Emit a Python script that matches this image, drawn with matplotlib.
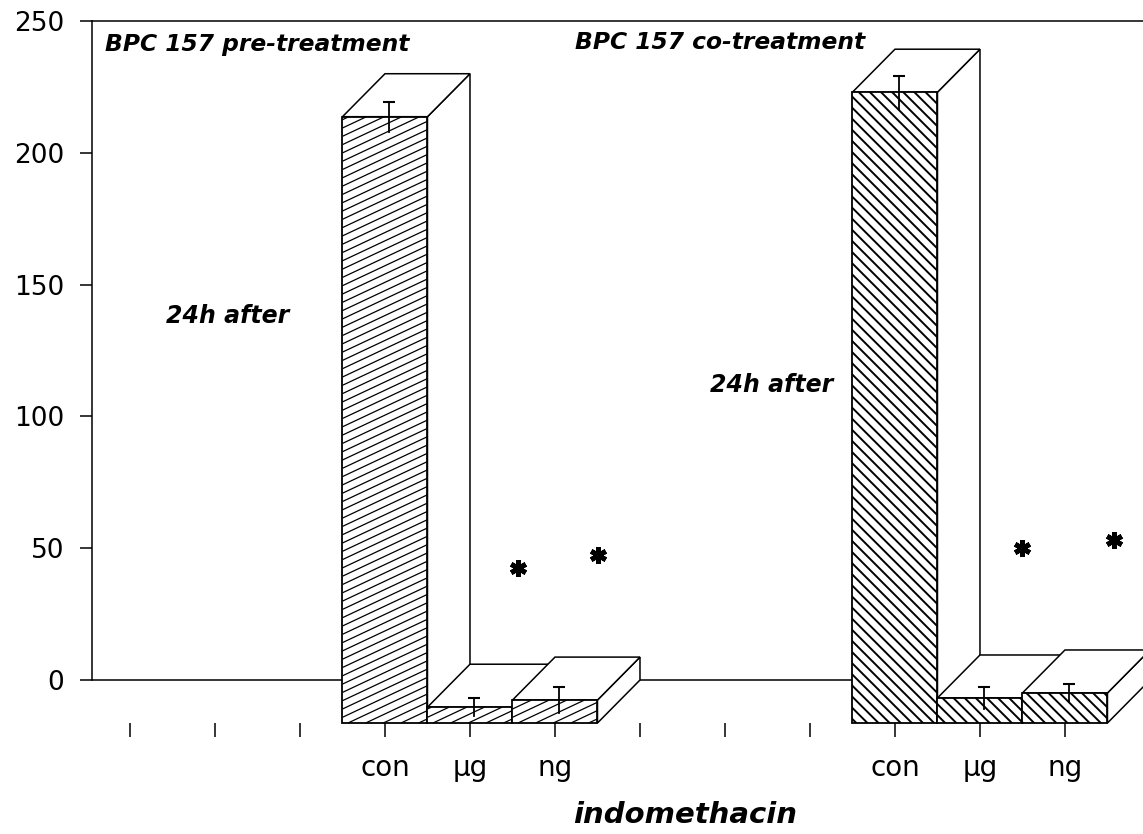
import numpy as np
import matplotlib
matplotlib.use("Agg")
import matplotlib.pyplot as plt
from matplotlib.patches import Polygon, Rectangle
from matplotlib.collections import LineCollection

# values read on the back wall of the 3-D chart
dose_labels = ["con", "µg", "ng"]
pre_x = [3, 4, 5]
co_x = [9, 10, 11]
pre_vals = [230.0, 6.0, 8.7]
pre_err = [5.7, 3.4, 4.9]
co_vals = [239.3, 9.5, 11.4]
co_err = [6.3, 4.2, 3.4]
star_x = [4.56, 5.51, 10.50, 11.58]
star_y = [42.5, 47.5, 50.0, 53.2]
n_ticks = 12

depth_x = 0.5
depth_y = 16.3

plt.rcParams['font.family'] = ['DejaVu Sans']
plt.rcParams['hatch.linewidth'] = 1.4

fig = plt.figure(figsize=(11.43, 8.34), dpi=100)
ax = fig.add_axes([92 / 1143, 1 - 723 / 834, 1 - 92 / 1143, (723 - 21) / 834])
ax.set_xlim(-0.447, 11.918)
ax.set_ylim(-depth_y, 250)

bb = ax.get_window_extent()
sx = bb.width / (11.918 + 0.447)
sy = bb.height / (250 + depth_y)


def slanted_hatch(x0, x1, y0, y1, z):
    # thin lines rising to the right (pre-treatment fill), cut to the face
    slope = 0.47
    gap = 8.3
    w = (x1 - x0) * sx
    h = (y1 - y0) * sy
    segs = []
    for c in np.arange(-slope * w + gap / 2, h, gap):
        xa = max(0.0, -c / slope)
        xb = min(w, (h - c) / slope)
        if xb <= xa:
            continue
        segs.append([(x0 + xa / sx, y0 + (c + slope * xa) / sy),
                     (x0 + xb / sx, y0 + (c + slope * xb) / sy)])
    lc = LineCollection(segs, colors="black", linewidths=0.9, zorder=z)
    lc.set_clip_on(False)
    ax.add_collection(lc)


def bar3d(xc, v, err, z, pre):
    xl, xr = xc - 0.5, xc + 0.5
    top = v - depth_y
    side = Polygon([(xr, -depth_y), (xr + depth_x, 0), (xr + depth_x, v), (xr, top)],
                   closed=True, fc="white", ec="black", lw=1.1, zorder=z, clip_on=False)
    lid = Polygon([(xl, top), (xr, top), (xr + depth_x, v), (xl + depth_x, v)],
                  closed=True, fc="white", ec="black", lw=1.1, zorder=z, clip_on=False)
    ax.add_patch(side)
    ax.add_patch(lid)
    if pre:
        ax.add_patch(Rectangle((xl, -depth_y), 1, v, fc="white", ec="none",
                               zorder=z + 0.1, clip_on=False))
        slanted_hatch(xl, xr, -depth_y, top, z + 0.2)
        ax.add_patch(Rectangle((xl, -depth_y), 1, v, fc="none", ec="black", lw=1.3,
                               zorder=z + 0.3, clip_on=False))
    else:
        ax.add_patch(Rectangle((xl, -depth_y), 1, v, fc="white", ec="black", lw=1.3,
                               hatch="\\\\\\", zorder=z + 0.1, clip_on=False))
    ex = xc + 0.05
    ax.plot([ex, ex], [top - err, top + err], color="black", lw=1.3, zorder=z + 0.4, clip_on=False)
    ax.plot([ex], [top + err], marker="_", ms=8, mew=1.5, color="black", zorder=z + 0.4, clip_on=False)


ax.axhline(0, color="black", lw=1.1, zorder=1)

z = 2
for xc, v, e in zip(pre_x, pre_vals, pre_err):
    bar3d(xc, v, e, z, True)
    z += 1
for xc, v, e in zip(co_x, co_vals, co_err):
    bar3d(xc, v, e, z, False)
    z += 1

ax.plot(star_x, star_y, linestyle="none", marker=(6, 2, 0), ms=12, mew=3.5, color="black", zorder=20)

# axes frame
ax.spines['right'].set_visible(False)
ax.spines['bottom'].set_visible(False)
ax.spines['left'].set_bounds(0, 250)
ax.spines['left'].set_linewidth(1.1)
ax.spines['top'].set_linewidth(1.1)
ax.set_yticks([0, 50, 100, 150, 200, 250])
ax.tick_params(axis='y', direction='out', length=9, width=1.1, pad=11, labelsize=19)

xt_labels = [""] * n_ticks
for i, p in enumerate(pre_x):
    xt_labels[p] = dose_labels[i]
for i, p in enumerate(co_x):
    xt_labels[p] = dose_labels[i]
ax.set_xticks(range(n_ticks))
ax.set_xticklabels(xt_labels)
ax.tick_params(axis='x', direction='out', length=10, width=1.1, pad=12, labelsize=20)

ax.text(-0.294, 241.2, "BPC 157 pre-treatment", fontsize=16.8, fontweight="bold",
        style="italic", va="center", ha="left")
ax.text(5.235, 241.9, "BPC 157 co-treatment", fontsize=16.8, fontweight="bold",
        style="italic", va="center", ha="left")
ax.text(0.42, 138.0, "24h after", fontsize=17, fontweight="bold", style="italic",
        va="center", ha="left")
ax.text(6.82, 112.0, "24h after", fontsize=17, fontweight="bold", style="italic",
        va="center", ha="left")
fig.text(685 / 1143, 1 - 815 / 834, "indomethacin", fontsize=21, fontweight="bold",
         style="italic", ha="center", va="center")

fig.savefig("out.png", dpi=100)
